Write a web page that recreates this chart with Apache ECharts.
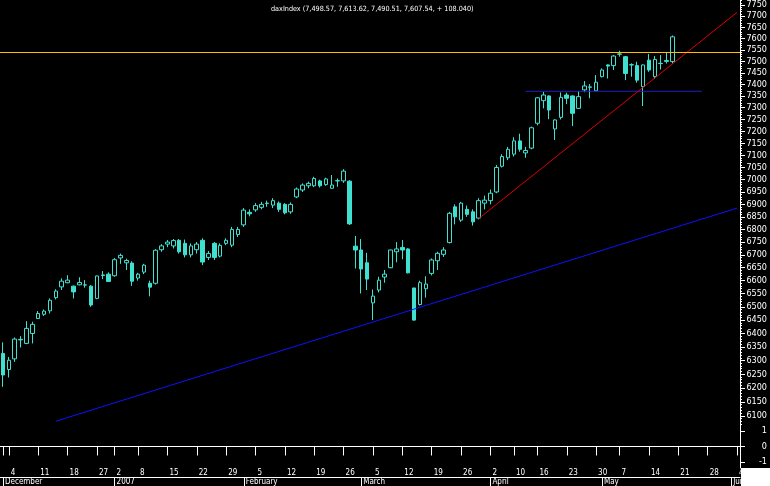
<!DOCTYPE html>
<html><head><meta charset="utf-8">
<script src="https://cdn.jsdelivr.net/npm/echarts@6/dist/echarts.min.js"></script>
<style>html,body{margin:0;padding:0;background:#000}#c{width:770px;height:486px}</style>
</head><body><div id="c"></div>
<script>
const dates = [
'2006-12-01','2006-12-04','2006-12-05','2006-12-06','2006-12-07','2006-12-08','2006-12-11','2006-12-12','2006-12-13','2006-12-14','2006-12-15','2006-12-18','2006-12-19','2006-12-20','2006-12-21','2006-12-22','2006-12-27','2006-12-28','2006-12-29',
'2007-01-02','2007-01-03','2007-01-04','2007-01-05','2007-01-08','2007-01-09','2007-01-10','2007-01-11','2007-01-12','2007-01-15','2007-01-16','2007-01-17','2007-01-18','2007-01-19','2007-01-22','2007-01-23','2007-01-24','2007-01-25','2007-01-26','2007-01-29','2007-01-30','2007-01-31',
'2007-02-01','2007-02-02','2007-02-05','2007-02-06','2007-02-07','2007-02-08','2007-02-09','2007-02-12','2007-02-13','2007-02-14','2007-02-15','2007-02-16','2007-02-19','2007-02-20','2007-02-21','2007-02-22','2007-02-23','2007-02-26','2007-02-27','2007-02-28',
'2007-03-01','2007-03-02','2007-03-05','2007-03-06','2007-03-07','2007-03-08','2007-03-09','2007-03-12','2007-03-13','2007-03-14','2007-03-15','2007-03-16','2007-03-19','2007-03-20','2007-03-21','2007-03-22','2007-03-23','2007-03-26','2007-03-27','2007-03-28','2007-03-29','2007-03-30',
'2007-04-02','2007-04-03','2007-04-04','2007-04-05','2007-04-10','2007-04-11','2007-04-12','2007-04-13','2007-04-16','2007-04-17','2007-04-18','2007-04-19','2007-04-20','2007-04-23','2007-04-24','2007-04-25','2007-04-26','2007-04-27','2007-04-30',
'2007-05-02','2007-05-03','2007-05-04','2007-05-07','2007-05-08','2007-05-09','2007-05-10','2007-05-11','2007-05-14','2007-05-15','2007-05-16','2007-05-17','2007-05-18','2007-05-21','2007-05-22','2007-05-23','2007-05-24','2007-05-25','2007-05-28','2007-05-29','2007-05-30','2007-05-31',
'2007-06-01','2007-06-04'
];
const opens = [
6326,6267,6306,6378,6363,6400,6456,6472,6485,6535,6576,6592,6579,6584,6583,6579,6532,6622,6625,
6619,6688,6669,6668,6610,6633,6590,6590,6720,6742,6735,6757,6745,6700,6720,6757,6690,6745,6695,6745,6738,6780,
6818,6868,6878,6888,6903,6897,6905,6900,6870,6930,6958,6975,6975,6995,6980,6965,6996,6995,6994,6734,
6719,6669,6515,6564,6614,6650,6712,6729,6723,6572,6509,6569,6628,6677,6702,6748,6890,6837,6880,6870,6845,6905,
6915,6950,7055,7090,7105,7160,7110,7130,7234,7330,7350,7210,7259,7354,7350,7297,7376,7387,7372,
7433,7484,7481,7531,7520,7485,7481,7390,7505,7433,7491,7503,7498.57];
const closes = [
6247,6301,6379,6376,6419,6434,6475,6484,6525,6560,6598,6602,6557,6593,6584,6507,6618,6620,6597,
6681,6698,6678,6598,6625,6660,6575,6718,6735,6750,6756,6712,6700,6735,6742,6672,6705,6690,6737,6757,6800,6800,
6877,6862,6895,6900,6905,6915,6880,6866,6900,6962,6978,6985,7005,6975,7003,6978,6995,7035,6822,6719,
6645,6606,6541,6602,6625,6719,6723,6719,6630,6450,6592,6587,6680,6706,6719,6864,6850,6905,6860,6830,6915,6917,
6945,7050,7095,7125,7160,7125,7120,7215,7342,7354,7290,7248,7344,7340,7276,7347,7393,7389,7409,
7462,7479,7523,7532,7447,7484,7418,7484,7462,7508,7490,7499.5,7607.54];
const lows = [
6204,6238,6295,6348,6360,6363,6455,6466,6475,6528,6564,6590,6532,6582,6573,6500,6529,6606,6596,
6615,6665,6641,6580,6600,6625,6540,6585,6712,6730,6725,6705,6690,6690,6705,6660,6680,6680,6690,6738,6730,6770,
6810,6852,6870,6880,6890,6885,6870,6860,6862,6925,6950,6965,6970,6968,6975,6964,6971,6987,6818,6647,
6551,6564,6450,6555,6592,6648,6671,6683,6628,6448,6505,6535,6620,6641,6692,6745,6820,6830,6850,6815,6840,6880,
6900,6945,7050,7080,7095,7115,7090,7125,7225,7297,7251,7164,7250,7315,7222,7295,7366,7340,7370,
7430,7425,7462,7520,7418,7433,7407,7307,7454,7423,7464,7490,7490.51];
const highs = [
6367,6313,6385,6390,6446,6444,6484,6490,6532,6567,6609,6621,6581,6613,6602,6583,6619,6637,6632,
6688,6705,6685,6675,6630,6665,6600,6722,6742,6758,6762,6762,6760,6745,6750,6765,6715,6750,6745,6765,6810,6810,
6885,6880,6905,6910,6915,6925,6912,6905,6908,6968,6985,6992,7012,7000,7008,7019,7005,7043,6998,6774,
6762,6708,6566,6615,6641,6720,6750,6758,6726,6572,6600,6617,6686,6712,6730,6870,6900,6910,6895,6880,6925,6935,
6960,7060,7105,7135,7175,7190,7135,7220,7345,7368,7352,7250,7365,7364,7352,7371,7414,7401,7440,
7469,7486,7527,7546,7523,7491,7498,7486,7532,7523,7527,7539,7613.62];

const priceTicks = [6100,6150,6200,6250,6300,6350,6400,6450,6500,6550,6600,6650,6700,6750,6800,6850,6900,6950,7000,7050,7100,7150,7200,7250,7300,7350,7400,7450,7500,7550,7600,7650,7700,7750];
const oscTicks = [-1, 0, 1];
const monthNames = ['January','February','March','April','May','June','July','August','September','October','November','December'];
const resistanceLevel = 7540;
const supportSegment = [['2007-04-12', 7370], ['2007-05-25', 7370]];
const redTrend = [['2007-03-29', 6843], ['2007-06-04', 7717]];
const blueTrend = [['2006-12-14', 6081], ['2007-06-04', 6885]];
const titleText = 'daxIndex (7,498.57, 7,613.62, 7,490.51, 7,607.54, + 108.040)';

const minorTicks = [];
for (let v = 6070; v <= 7770; v += 10) minorTicks.push(v);

const candleData = opens.map((o, i) => [o, closes[i], lows[i], highs[i]]);
const dObj = dates.map(s => new Date(s + 'T12:00:00Z'));
const isWeekStart = i => i === 0 || dObj[i].getUTCDay() <= dObj[i-1].getUTCDay() || (dObj[i] - dObj[i-1]) > 6*86400000;
const isMonthStart = i => i === 0 || dObj[i].getUTCMonth() !== dObj[i-1].getUTCMonth();

const FONT = "'Liberation Sans Narrow','DejaVu Sans Condensed','Liberation Sans',sans-serif";
const CY = '#40E0D0';

const chart = echarts.init(document.getElementById('c'), null, {renderer: 'canvas'});
chart.setOption({
  backgroundColor: '#000',
  animation: false,
  title: {text: titleText, left: 266, top: 1, textStyle: {color: '#fff', fontSize: 7.2, fontWeight: 'normal', fontFamily: FONT}},
  grid: [
    {left: 0, width: 741, top: 0, height: 425},
    {left: 0, width: 741, top: 425, height: 43}
  ],
  xAxis: [
    {type: 'category', gridIndex: 0, data: dates, show: false, boundaryGap: true},
    {type: 'category', gridIndex: 1, data: dates, position: 'bottom', offset: 0, boundaryGap: true,
      axisLine: {show: true, lineStyle: {color: '#fff', width: 1}},
      axisTick: {show: true, alignWithLabel: true, length: 9, interval: (i) => isWeekStart(i), lineStyle: {color: '#fff'}},
      axisLabel: {show: true, interval: (i) => isWeekStart(i), color: '#fff', fontSize: 8, fontFamily: FONT, align: 'left', margin: 1, padding: [0,0,0,2],
        formatter: (v, i) => i === 0 ? '' : String(new Date(v + 'T12:00:00Z').getUTCDate())},
      splitLine: {show: false}},
    {type: 'category', gridIndex: 1, data: dates, position: 'bottom', offset: 9, boundaryGap: true,
      axisLine: {show: true, lineStyle: {color: '#fff', width: 1}},
      axisTick: {show: true, alignWithLabel: true, length: 9, interval: (i) => isMonthStart(i), lineStyle: {color: '#fff'}},
      axisLabel: {show: true, interval: (i) => isMonthStart(i), color: '#fff', fontSize: 8, fontFamily: FONT, align: 'left', margin: 1, padding: [0,0,0,2],
        formatter: (v) => { const d = new Date(v + 'T12:00:00Z'); return d.getUTCMonth() === 0 ? String(d.getUTCFullYear()) : monthNames[d.getUTCMonth()]; }},
      splitLine: {show: false}}
  ],
  yAxis: [
    {type: 'log', logBase: 10, gridIndex: 0, position: 'right', min: 6067.6, max: 7772.6,
      axisLine: {show: true, lineStyle: {color: '#fff'}},
      axisTick: {show: true, length: 5, customValues: priceTicks, lineStyle: {color: '#fff'}},
      axisLabel: {show: true, customValues: priceTicks, color: '#fff', fontSize: 9, fontFamily: FONT, align: 'right', margin: 27,
        formatter: v => String(Math.round(v))},
      splitLine: {show: false}},
    {type: 'log', logBase: 10, gridIndex: 0, position: 'right', min: 6067.6, max: 7772.6,
      axisLine: {show: false},
      axisTick: {show: true, length: 2, customValues: minorTicks, lineStyle: {color: '#fff'}},
      axisLabel: {show: false}, splitLine: {show: false}},
    {type: 'value', gridIndex: 1, position: 'right', min: -1.4, max: 1.4,
      axisLine: {show: true, lineStyle: {color: '#fff'}},
      axisTick: {show: true, length: 5, customValues: oscTicks, lineStyle: {color: '#fff'}},
      axisLabel: {show: true, customValues: oscTicks, color: '#fff', fontSize: 9, fontFamily: FONT, align: 'right', margin: 27},
      splitLine: {show: false}}
  ],
  series: [
    {type: 'candlestick', xAxisIndex: 0, yAxisIndex: 0, data: candleData, barWidth: 4,
      itemStyle: {color: '#000', color0: CY, borderColor: CY, borderColor0: CY, borderWidth: 1},
      markLine: {symbol: 'none', silent: true, label: {show: false}, lineStyle: {color: '#ffbf00', type: 'solid', width: 1},
        data: [{yAxis: resistanceLevel}]}},
    {type: 'line', xAxisIndex: 0, yAxisIndex: 0, data: supportSegment, symbol: 'none', silent: true,
      lineStyle: {color: '#2020c8', width: 1}},
    {type: 'line', xAxisIndex: 0, yAxisIndex: 0, data: redTrend, symbol: 'none', silent: true,
      lineStyle: {color: '#e00000', width: 1}},
    {type: 'line', xAxisIndex: 0, yAxisIndex: 0, data: blueTrend, symbol: 'none', silent: true,
      lineStyle: {color: '#1010ff', width: 1}}
  ],
  graphic: [{type: 'rect', left: 741, top: 468, z: 100, shape: {width: 29, height: 18}, style: {fill: '#fff'}}]
});
</script></body></html>
